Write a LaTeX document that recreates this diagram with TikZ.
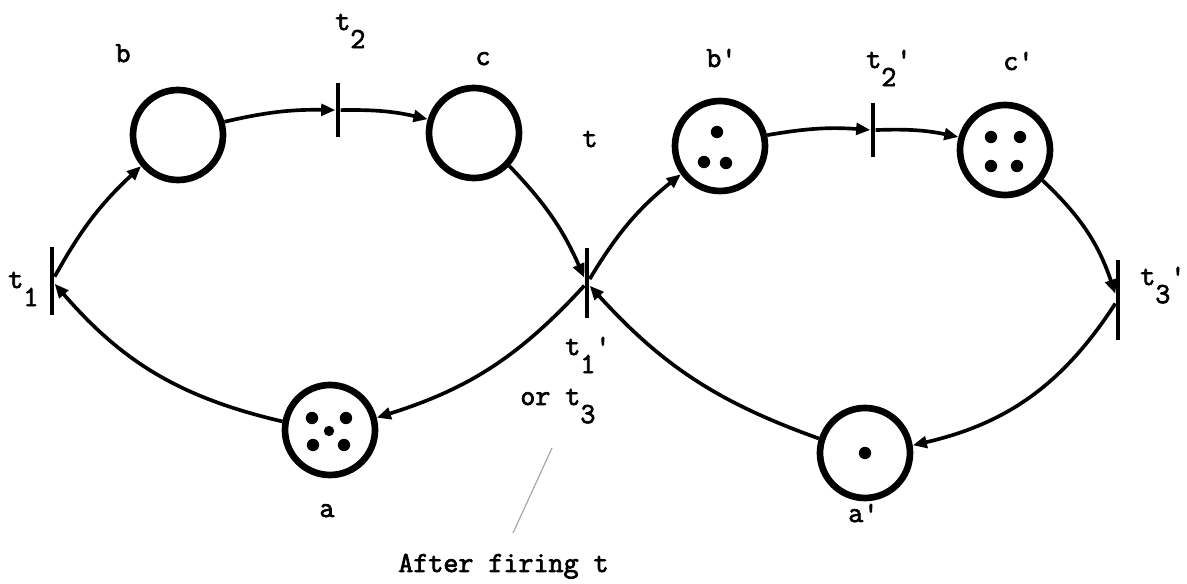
\documentclass[tikz,border=0pt]{standalone}
\usepackage{fontspec}
\newfontfamily\twfont{Latin Modern Mono}[FakeBold=2.5]
\usetikzlibrary{arrows.meta}
\newcommand\lsub[1]{\raisebox{-0.62em}{#1}}
\newcommand\pr{\textquotesingle}
\begin{document}
\begin{tikzpicture}[x=0.6pt,y=0.6pt,
  place/.style={circle,draw,line width=4pt,minimum size=54pt,inner sep=0pt},
  tbar/.style={rectangle,fill=black,inner sep=0pt,minimum width=2.8pt,minimum height=#1},
  arc/.style={line width=2.2pt,-{Triangle[length=8.5pt,width=7pt]}},
  lbl/.style={inner sep=0pt,font=\twfont\fontsize{17.5}{20}\selectfont},
  tok/.style={fill=black}
]
\fill[white] (0,0) rectangle (1187,-584);
\useasboundingbox (0,0) rectangle (1187,-584);

% places
\node[place] (b)  at (178,-135) {};
\node[place] (c)  at (474,-133) {};
\node[place] (a)  at (330,-430) {};
\node[place] (bp) at (720,-146) {};
\node[place] (cp) at (1005,-150) {};
\node[place] (ap) at (865,-453) {};

% transitions
\node[tbar=40.8pt] (t1)  at (52,-281) {};
\node[tbar=32.4pt] (t2)  at (338,-110) {};
\node[tbar=42pt]   (m)   at (587,-283) {};
\node[tbar=32.4pt] (t2p) at (873,-130) {};
\node[tbar=48pt]   (t3p) at (1118,-300) {};

% tokens
\foreach \dx/\dy/\r in {-18/12/3.7,16/12/3.7,-1/-1/3.1,-17/-15/3.7,14/-15/3.7}
  \fill[tok] ([shift={(\dx,\dy)}]a.center) circle (\r pt);
\foreach \dx/\dy in {-3/14,-16/-16,6/-17}
  \fill[tok] ([shift={(\dx,\dy)}]bp.center) circle (3.7pt);
\foreach \dx/\dy in {-14/13,15/13,-14/-16,12/-16}
  \fill[tok] ([shift={(\dx,\dy)}]cp.center) circle (3.7pt);
\fill[tok] (ap.center) circle (3.7pt);

% arcs
\draw[arc] (t1) to[bend left=9] (b);
\draw[arc] (b) to[bend left=7] (t2);
\draw[arc] (t2) to[bend left=7] (c);
\draw[arc] (c) to[bend left=10] (m);
\draw[arc] (m) to[bend left=15] (a);
\draw[arc] (a) to[bend left=18] (t1);
\draw[arc] (m) to[bend left=10] (bp);
\draw[arc] (bp) to[bend left=7] (t2p);
\draw[arc] (t2p) to[bend left=7] (cp);
\draw[arc] (cp) to[bend left=14] (t3p);
\draw[arc] (t3p) to[bend left=22] (ap);
\draw[arc] (ap) to[bend left=14] (m);

% labels
\node[lbl,anchor=base] (lb) at (123,-62) {b};
\node[lbl,anchor=base west] (lt2) at (335,-30) {t\lsub{2}};
\node[lbl,anchor=base] (lc) at (483,-65) {c};
\node[lbl,anchor=base] (lt) at (590,-147) {t};
\node[lbl,anchor=base west] (lbp) at (706,-67) {b\pr};
\node[lbl,anchor=base west] (lt2p) at (866,-68) {t\lsub{2}\pr};
\node[lbl,anchor=base west] (lcp) at (1003,-70) {c\pr};
\node[lbl,anchor=base west] (lt1) at (8,-288) {t\lsub{1}};
\node[lbl,anchor=base west] (lt3p) at (1140,-285) {t\lsub{3}\pr};
\node[lbl,anchor=base west] (lt1p) at (565,-355) {t\lsub{1}\pr};
\node[lbl,anchor=base west] (lor) at (520,-405) {or t\lsub{3}};
\node[lbl,anchor=base] (la) at (327,-517) {a};
\node[lbl,anchor=base west] (lap) at (848,-522) {a\pr};
\node[lbl,anchor=base west] (cap) at (398,-572) {After firing t};

% faint slash
\coordinate (s1) at (552,-448);
\coordinate (s2) at (513,-533);
\draw[gray!70,line width=0.7pt] (s1) -- (s2);
\end{tikzpicture}
\end{document}
